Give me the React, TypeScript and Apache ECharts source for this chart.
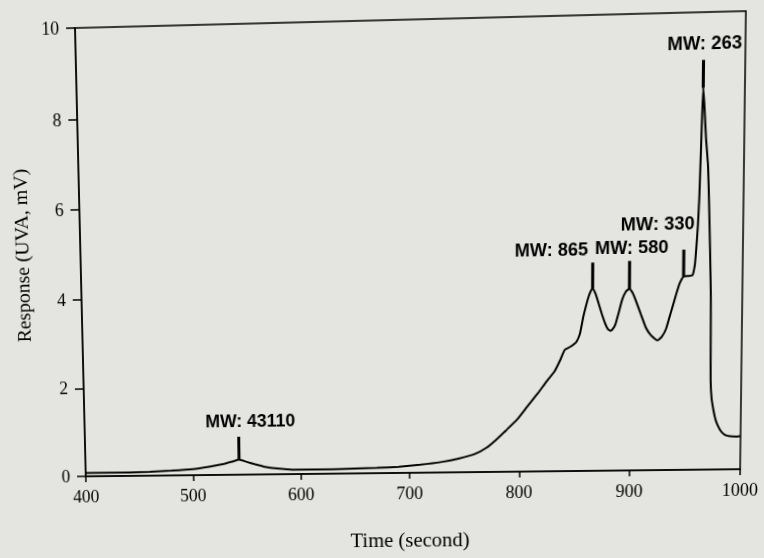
import React, { useEffect, useRef } from "react";
import * as echarts from "echarts";

// Chromatogram trace (time in seconds, response in mV)
const times = [
  400, 420, 440, 460, 480, 500, 515, 529, 537, 543, 550, 558, 567, 578, 592, 610,
  630, 650, 670, 690, 710, 730, 745, 760, 770, 779, 788.5, 798.5, 807.5, 817, 824.5, 832.2,
  837.5, 841.2, 845.7, 851.6, 854.8, 858, 860.5, 862.6, 864.5, 866.2, 869, 871.6, 874.5,
  877.8, 880, 882.4, 884.5, 886.8, 889.5, 892.7, 896, 899.2, 902, 904.8, 909.5, 914.1,
  919, 924.7, 928.5, 932.2, 935, 938, 941, 943.9, 946, 947.5, 951, 955.3, 957.5, 958.6,
  959.8, 960.8, 961.5, 962.3, 963.3, 964.5, 966.2, 968.3, 969.4, 970.8, 972, 972.3,
  972.6, 973.6, 975.3, 977.3, 979.5, 982.5, 986, 990.5, 996.8, 1000,
];
const response = [
  0.08, 0.08, 0.08, 0.09, 0.11, 0.14, 0.19, 0.25, 0.3, 0.34, 0.29, 0.23, 0.17, 0.13, 0.1, 0.1,
  0.1, 0.11, 0.12, 0.14, 0.18, 0.24, 0.31, 0.41, 0.54, 0.72, 0.94, 1.18, 1.46, 1.75, 2.0, 2.24,
  2.5, 2.71, 2.77, 2.88, 3.05, 3.45, 3.7, 3.88, 4.0, 4.06, 3.93, 3.73, 3.5,
  3.27, 3.16, 3.12, 3.16, 3.26, 3.5, 3.8, 3.98, 4.04, 3.95, 3.79, 3.48, 3.18,
  3.0, 2.89, 2.97, 3.14, 3.38, 3.64, 3.9, 4.13, 4.24, 4.29, 4.3, 4.31, 4.55, 4.91,
  5.4, 6.0, 6.69, 7.5, 8.38, 8.0, 7.3, 6.68, 5.98, 4.9, 3.84, 2.9,
  2.0, 1.6, 1.34, 1.12, 0.98, 0.85, 0.77, 0.74, 0.73, 0.74,
];

// Molecular-weight markers
const peakTimes = [543, 866.2, 899.2, 947.5, 963.3];
const peakValues = [0.34, 4.06, 4.04, 4.29, 8.38];
const markerTops = [0.86, 4.63, 4.65, 4.88, 8.98];
const peakLabels = ["MW: 43110", "MW: 865", "MW: 580", "MW: 330", "MW: 263"];

// Axis ticks
const xTicks = { min: 400, max: 1000, interval: 100 };
const yTicks = { min: 0, max: 10, interval: 2 };

// ---- layout (pixels) ----
const W = 764;
const H = 558;
const GRID = { left: 81, right: 18, top: 20, bottom: 75 };
// label placement relative to marker tops
const labelOffsets = [
  [12, -16],
  [-41, -13],
  [2, -13],
  [-26, -26],
  [1, -16],
];
// where the plot frame's corners sit on the (slightly skewed) scanned page
const frameCorners = [
  [75, 28],
  [749, 11],
  [743, 479],
  [86, 486],
];

const INK = "#000";
const SERIF = "'Liberation Serif', 'Times New Roman', serif";
const SANS = "'Liberation Sans', Arial, sans-serif";

function solve(A: number[][], b: number[]): number[] {
  const n = b.length;
  const M = A.map((row, i) => [...row, b[i]]);
  for (let c = 0; c < n; c++) {
    let p = c;
    for (let r = c + 1; r < n; r++) if (Math.abs(M[r][c]) > Math.abs(M[p][c])) p = r;
    [M[c], M[p]] = [M[p], M[c]];
    for (let r = 0; r < n; r++) {
      if (r === c) continue;
      const f = M[r][c] / M[c][c];
      for (let k = c; k <= n; k++) M[r][k] -= f * M[c][k];
    }
  }
  return M.map((row, i) => row[n] / row[i]);
}

function pageTransform(): string {
  const l = GRID.left;
  const r = W - GRID.right;
  const t = GRID.top;
  const btm = H - GRID.bottom;
  const src = [
    [l, t],
    [r, t],
    [r, btm],
    [l, btm],
  ];
  const A: number[][] = [];
  const b: number[] = [];
  for (let i = 0; i < 4; i++) {
    const [x, y] = src[i];
    const [u, v] = frameCorners[i];
    A.push([x, y, 1, 0, 0, 0, -x * u, -y * u]);
    b.push(u);
    A.push([0, 0, 0, x, y, 1, -x * v, -y * v]);
    b.push(v);
  }
  const [h11, h12, h13, h21, h22, h23, h31, h32] = solve(A, b);
  return `matrix3d(${h11},${h21},0,${h31},${h12},${h22},0,${h32},0,0,1,0,${h13},${h23},0,1)`;
}

export default function App() {
  const ref = useRef<HTMLDivElement>(null);

  useEffect(() => {
    if (!ref.current) return;
    const chart = echarts.init(ref.current, undefined, { renderer: "svg" });

    const markerSeries = peakTimes.map((t, i) => ({
      type: "line",
      data: [
        [t, peakValues[i]],
        [t, markerTops[i]],
      ],
      showSymbol: false,
      symbol: "none",
      lineStyle: { color: INK, width: 3 },
      z: 3,
      silent: true,
    }));

    chart.setOption({
      animation: false,
      backgroundColor: "transparent",
      grid: {
        ...GRID,
        show: true,
        borderColor: INK,
        borderWidth: 1.5,
      },
      xAxis: {
        type: "value",
        min: xTicks.min,
        max: xTicks.max,
        interval: xTicks.interval,
        name: "Time (second)",
        nameLocation: "middle",
        nameGap: 59,
        nameTextStyle: { fontFamily: SERIF, fontSize: 21, color: INK },
        axisLine: { lineStyle: { color: INK, width: 1.5 } },
        axisTick: { length: 6, lineStyle: { color: INK, width: 1.5 } },
        axisLabel: {
          fontFamily: SERIF,
          fontSize: 18,
          color: INK,
          margin: 12,
          formatter: (v: number) => String(v),
        },
        splitLine: { show: false },
      },
      yAxis: {
        type: "value",
        min: yTicks.min,
        max: yTicks.max,
        interval: yTicks.interval,
        name: "Response (UVA, mV)",
        nameLocation: "middle",
        nameGap: 50,
        nameTextStyle: { fontFamily: SERIF, fontSize: 20, color: INK },
        axisLine: { lineStyle: { color: INK, width: 1.5 } },
        axisTick: { length: 9, lineStyle: { color: INK, width: 1.5 } },
        axisLabel: {
          fontFamily: SERIF,
          fontSize: 18,
          color: INK,
          margin: 16,
          formatter: (v: number) => String(v),
        },
        splitLine: { show: false },
      },
      series: [
        {
          type: "line",
          data: times.map((t, i) => [t, response[i]]),
          showSymbol: false,
          symbol: "none",
          smooth: 0.15,
          lineStyle: { color: INK, width: 2 },
          z: 2,
          silent: true,
        },
        ...markerSeries,
      ],
    });

    // MW annotations, positioned through the chart's own scales
    const texts = peakTimes.map((t, i) => {
      const [px, py] = chart.convertToPixel({ gridIndex: 0 }, [t, markerTops[i]]) as number[];
      return {
        type: "text",
        x: px + labelOffsets[i][0],
        y: py + labelOffsets[i][1],
        silent: true,
        z: 10,
        style: {
          text: peakLabels[i],
          fill: INK,
          font: `bold 18px ${SANS}`,
          align: "center",
          verticalAlign: "middle",
        },
      };
    });
    chart.setOption({ graphic: texts });

    return () => chart.dispose();
  }, []);

  return (
    <div
      style={{
        position: "fixed",
        left: 0,
        top: 0,
        width: W,
        height: H,
        background: "#e4e5e0",
        overflow: "hidden",
      }}
    >
      <div
        ref={ref}
        style={{
          width: W,
          height: H,
          transform: pageTransform(),
          transformOrigin: "0 0",
        }}
      />
    </div>
  );
}
